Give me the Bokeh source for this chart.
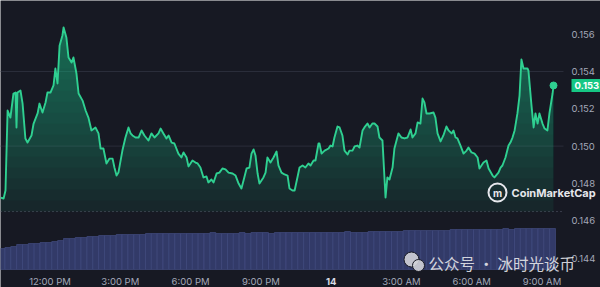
import numpy as np
from bokeh.plotting import figure
from bokeh.models import Range1d, Label
from bokeh.core.properties import value
from bokeh.embed import file_html
from bokeh.resources import INLINE

# ---------------- data ----------------
# time in hours since 00:00 on the 13th
time_h = [9.89, 10.02, 10.10, 10.19, 10.31, 10.44, 10.53, 10.57, 10.61, 10.74, 10.83, 10.95, 11.04, 11.21, 11.30,
          11.47, 11.55, 11.68, 11.81, 11.89, 12.02, 12.15, 12.23, 12.32, 12.41, 12.53, 12.58, 12.70, 12.79, 12.92,
          13.00, 13.13, 13.22, 13.39, 13.52, 13.64, 13.77, 13.94, 14.07, 14.16, 14.28, 14.41, 14.54, 14.67, 14.75,
          14.84, 14.92, 15.09, 15.22, 15.35, 15.44, 15.52, 15.65, 15.78, 15.91, 16.03, 16.20, 16.33, 16.46, 16.63,
          16.72, 16.84, 16.97, 17.06, 17.19, 17.31, 17.48, 17.61, 17.70, 17.83, 17.91, 18.08, 18.21, 18.30, 18.42,
          18.55, 18.68, 18.76, 18.89, 18.98, 19.11, 19.23, 19.36, 19.49, 19.62, 19.79, 19.92, 20.05, 20.17, 20.26,
          20.39, 20.51, 20.60, 20.69, 20.77, 20.86, 20.94, 21.11, 21.20, 21.28, 21.41, 21.54, 21.67, 21.75, 21.88,
          22.01, 22.14, 22.22, 22.35, 22.44, 22.56, 22.65, 22.78, 22.90, 23.03, 23.12, 23.25, 23.33, 23.46, 23.50,
          23.59, 23.72, 23.89, 23.97, 24.06, 24.14, 24.27, 24.36, 24.48, 24.57, 24.70, 24.78, 24.91, 25.00, 25.12,
          25.21, 25.34, 25.42, 25.55, 25.64, 25.76, 25.85, 25.98, 26.06, 26.19, 26.32, 26.40, 26.49, 26.62, 26.70,
          26.79, 26.87, 27.00, 27.13, 27.26, 27.39, 27.47, 27.60, 27.69, 27.81, 27.90, 27.98, 28.07, 28.20, 28.37,
          28.45, 28.54, 28.67, 28.79, 28.92, 29.01, 29.14, 29.22, 29.31, 29.39, 29.52, 29.65, 29.78, 29.86, 29.99,
          30.12, 30.25, 30.33, 30.50, 30.63, 30.72, 30.89, 30.97, 31.14, 31.23, 31.31, 31.44, 31.57, 31.65, 31.74,
          31.83, 31.95, 32.04, 32.12, 32.21, 32.38, 32.42, 32.55, 32.64, 32.72, 32.81, 32.89, 33.02, 33.11, 33.23,
          33.32, 33.45, 33.49]

price = [0.14724, 0.14719, 0.14762, 0.15191, 0.15153, 0.15282, 0.15287, 0.15100, 0.15287, 0.15298, 0.15228, 0.15041, 0.15019, 0.15057, 0.15121,
         0.15175, 0.15228, 0.15180, 0.15234, 0.15287, 0.15287, 0.15325, 0.15416, 0.15336, 0.15540, 0.15593, 0.15636, 0.15582, 0.15475, 0.15448,
         0.15475, 0.15389, 0.15282, 0.15244, 0.15191, 0.15153, 0.15084, 0.15100, 0.15068, 0.14987, 0.14987, 0.14907, 0.14933, 0.14933, 0.14885,
         0.14842, 0.14858, 0.14976, 0.15046, 0.15100, 0.15068, 0.15057, 0.15046, 0.15046, 0.15084, 0.15057, 0.15030, 0.15068, 0.15046, 0.15068,
         0.15094, 0.15068, 0.15041, 0.15057, 0.15019, 0.15014, 0.14960, 0.14939, 0.14966, 0.14939, 0.14891, 0.14923, 0.14912, 0.14907, 0.14885,
         0.14832, 0.14837, 0.14805, 0.14821, 0.14805, 0.14853, 0.14858, 0.14880, 0.14875, 0.14858, 0.14853, 0.14842, 0.14799, 0.14773, 0.14816,
         0.14880, 0.14885, 0.14960, 0.14982, 0.14950, 0.14853, 0.14799, 0.14832, 0.14858, 0.14939, 0.14912, 0.14939, 0.14971, 0.14896, 0.14858,
         0.14848, 0.14842, 0.14773, 0.14762, 0.14762, 0.14832, 0.14885, 0.14896, 0.14885, 0.14907, 0.14896, 0.14923, 0.14923, 0.15014, 0.15014,
         0.14960, 0.14976, 0.14987, 0.15003, 0.14998, 0.15046, 0.15105, 0.15100, 0.15057, 0.14976, 0.14955, 0.14976, 0.14976, 0.14998, 0.15003,
         0.14992, 0.15084, 0.15100, 0.15121, 0.15100, 0.15121, 0.15121, 0.15105, 0.15046, 0.15030, 0.14724, 0.14832, 0.14821, 0.14885, 0.14987,
         0.15030, 0.15068, 0.15046, 0.15041, 0.15046, 0.15089, 0.15046, 0.15068, 0.15127, 0.15121, 0.15255, 0.15234, 0.15175, 0.15175, 0.15180,
         0.15153, 0.15068, 0.15025, 0.15057, 0.15105, 0.15084, 0.15068, 0.15084, 0.15046, 0.15041, 0.15003, 0.14960, 0.14976, 0.14992, 0.14966,
         0.14960, 0.14939, 0.14880, 0.14912, 0.14923, 0.14880, 0.14842, 0.14832, 0.14858, 0.14885, 0.14896, 0.14939, 0.15003, 0.15019, 0.15046,
         0.15084, 0.15175, 0.15271, 0.15464, 0.15416, 0.15416, 0.15405, 0.15218, 0.15100, 0.15175, 0.15121, 0.15175, 0.15121, 0.15094, 0.15084,
         0.15180, 0.15282, 0.15325]

# 24h volume bars (relative units)
volume = [21, 22, 23, 25, 25, 26, 26, 27, 27, 28,
          29, 31, 31, 32, 32, 33, 33, 34, 34, 34,
          35, 35, 35, 35, 35, 36, 36, 36, 36, 36,
          36, 36, 36, 36, 36, 36, 37, 36, 36, 36,
          36, 37, 36, 37, 37, 37, 36, 37, 37, 37,
          37, 37, 37, 37, 37, 37, 37, 37, 37, 38,
          37, 37, 37, 38, 38, 38, 38, 38, 38, 39,
          39, 39, 39, 39, 39, 39, 39, 40, 40, 40,
          40, 40, 40, 40, 40, 40, 41, 40, 41, 41,
          41, 41, 41, 41, 41]
vol_start_h = 9.95
vol_step_h = 0.25

x_tick_hours = [12, 15, 18, 21, 24, 27, 30, 33]
x_tick_labels = ["12:00 PM", "3:00 PM", "6:00 PM", "9:00 PM", "14", "3:00 AM", "6:00 AM", "9:00 AM"]
y_ticks = [0.144, 0.146, 0.148, 0.150, 0.152, 0.154, 0.156]
y_tick_labels = ["0.144", "0.146", "0.148", "0.150", "0.152", "0.154", "0.156"]
grid_ticks = [0.150, 0.154]
ref_level = 0.14649
last_label = "0.153"

# ---------------- style ----------------
BG = "#171923"
GREEN = "#2fd091"
TAG = "#16c784"
AXIS_TXT = "#a3a8b8"
FONT = "Inter"


# pixel -> data helpers (used only to place decorations / plot edge)
def dx(px):
    return 12 + (px - 49.5) / 23.43


def dy(py):
    return 0.154 + (71 - py) / 18650


vol_time = vol_start_h + vol_step_h * np.arange(len(volume))

p = figure(width=600, height=287, output_backend="svg", toolbar_location=None,
           x_range=Range1d(dx(0), dx(600)), y_range=Range1d(dy(287), dy(0)),
           x_axis_location=None, y_axis_location=None,
           min_border=0, min_border_left=0, min_border_right=0, min_border_top=0, min_border_bottom=0,
           background_fill_color=BG, border_fill_color=BG, outline_line_color=None)
p.grid.visible = False

p.extra_y_ranges = {"vol": Range1d(-18, 269)}

x_plot_end = dx(563)

# horizontal grid lines (end at the price-scale column)
p.segment(x0=dx(0), x1=x_plot_end, y0=grid_ticks, y1=grid_ticks, line_color="#2a2d3a", line_width=1)

# volume bars
p.vbar(x=vol_time, top=volume, bottom=0, width=vol_step_h, y_range_name="vol",
       fill_color="#323a68", line_color="#465087", line_width=0.6)

# reference dotted line
p.segment(x0=dx(0), x1=x_plot_end, y0=ref_level, y1=ref_level, line_color="#5b6072",
          line_dash="1 3", line_width=1)

# gradient-like area fill
t_arr = np.array(time_h)
pr = np.array(price)
p.varea(x=t_arr, y1=ref_level, y2=pr, fill_color=GREEN, fill_alpha=0.05)
for lvl in np.linspace(ref_level, 0.1565, 18):
    p.varea(x=t_arr, y1=lvl, y2=np.maximum(pr, lvl), fill_color=GREEN, fill_alpha=0.03)

# price line
p.line(t_arr, pr, line_color=GREEN, line_width=1.9, line_join="round")
p.scatter([time_h[-1]], [price[-1]], size=7, fill_color=GREEN, line_color=GREEN)

# price scale labels
p.text(x=dx(571), y=y_ticks, text=y_tick_labels, text_align="left", text_baseline="middle",
       text_color=AXIS_TXT, text_font=value(FONT), text_font_size="9.5px")

# time axis labels
xt_norm = [h for h, l in zip(x_tick_hours, x_tick_labels) if l != "14"]
xl_norm = [l for l in x_tick_labels if l != "14"]
p.text(x=xt_norm, y=dy(281), text=xl_norm, text_align="center", text_baseline="middle",
       text_color=AXIS_TXT, text_font=value(FONT), text_font_size="9.5px")
p.text(x=[24], y=dy(281), text=["14"], text_align="center", text_baseline="middle",
       text_color="#d8dbe4", text_font=value(FONT), text_font_size="9.5px", text_font_style="bold")

# last price tag
p.add_layout(Label(x=dx(571), y=price[-1], text=last_label, text_align="left", text_baseline="middle",
                   text_color="white", text_font=FONT, text_font_size="9.5px", text_font_style="bold",
                   background_fill_color=TAG, padding=3))

# CoinMarketCap watermark
p.scatter([dx(497)], [dy(192)], size=18, fill_color=None, line_color="#e6e7ec", line_width=2)
p.text(x=[dx(497)], y=dy(192.5), text=["m"], text_align="center", text_baseline="middle",
       text_color="#e6e7ec", text_font=value(FONT), text_font_size="10px", text_font_style="bold")
p.text(x=[dx(511)], y=dy(192), text=["CoinMarketCap"], text_align="left", text_baseline="middle",
       text_color="#e6e7ec", text_font=value(FONT), text_font_size="11px", text_font_style="bold")

# WeChat watermark
p.scatter([dx(411), dx(418)], [dy(259), dy(265)], size=[15, 12], fill_color="#d2d3d8", fill_alpha=0.9,
          line_color=BG, line_width=1)
p.text(x=[dx(428)], y=dy(262), text=["公众号 · 冰时光谈币"], text_align="left", text_baseline="middle",
       text_color="#e4e4e8", text_alpha=0.92, text_font=value("Noto Sans CJK SC"),
       text_font_size="15.5px")

open("out.html", "w").write(file_html(p, INLINE))
